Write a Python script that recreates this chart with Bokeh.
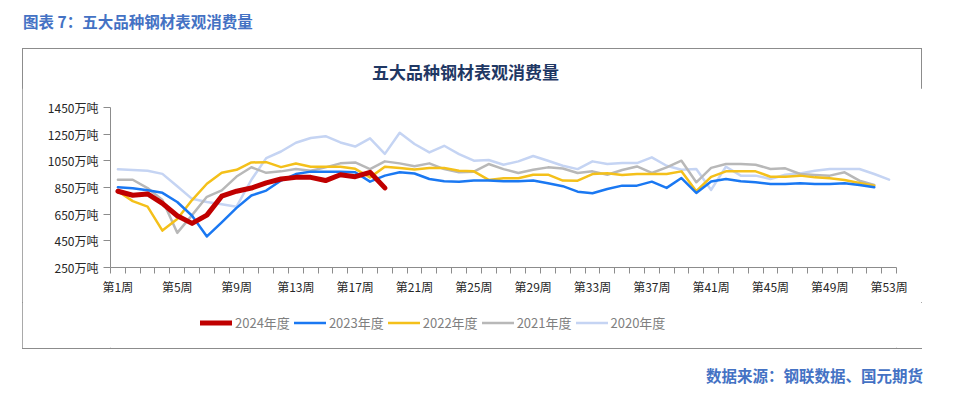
from bokeh.plotting import figure
from bokeh.models import Range1d, FixedTicker, Legend, LegendItem, Div
from bokeh.layouts import column
from bokeh.embed import file_html
from bokeh.resources import INLINE

# ---- data ----
x_tick_weeks = [1, 5, 9, 13, 17, 21, 25, 29, 33, 37, 41, 45, 49, 53]
x_tick_labels = ["第1周", "第5周", "第9周", "第13周", "第17周", "第21周", "第25周",
                 "第29周", "第33周", "第37周", "第41周", "第45周", "第49周", "第53周"]
y_ticks = [250, 450, 650, 850, 1050, 1250, 1450]
y_tick_labels = ["250万吨", "450万吨", "650万吨", "850万吨", "1050万吨", "1250万吨", "1450万吨"]

v2024 = [822, 792, 802, 731, 638, 581, 643, 785, 822, 846, 885, 914, 926, 926, 902,
         946, 931, 964, 847]
v2023 = [851, 844, 829, 810, 741, 638, 483, 589, 697, 790, 827, 902, 951, 969, 969,
         969, 964, 894, 939, 964, 955, 914, 897, 894, 902, 902, 897, 897, 902, 882,
         860, 819, 807, 839, 864, 864, 894, 847, 921, 809, 895, 914, 897, 889, 877,
         877, 882, 877, 877, 882, 869, 852]
v2022 = [822, 748, 706, 527, 613, 756, 878, 960, 983, 1038, 1040, 1003, 1030, 1006, 1006,
         1006, 990, 926, 1006, 996, 985, 996, 996, 976, 971, 907, 919, 919, 946, 946,
         902, 901, 951, 956, 944, 951, 951, 951, 971, 822, 930, 971, 971, 971, 931,
         931, 939, 926, 919, 906, 884, 864]
v2021 = [908, 908, 846, 756, 510, 643, 780, 829, 932, 1002, 960, 971, 988, 976, 1001,
         1031, 1038, 988, 1046, 1031, 1010, 1031, 988, 964, 969, 1026, 988, 959, 983, 1001,
         992, 959, 971, 946, 981, 1008, 959, 1001, 1051, 889, 997, 1026, 1026, 1021, 989,
         994, 951, 944, 939, 964, 901, 869]
v2020 = [986, 981, 976, 952, 859, 765, 741, 724, 706, 908, 1070, 1120, 1186, 1221, 1235,
         1188, 1157, 1219, 1102, 1260, 1176, 1113, 1163, 1101, 1051, 1056, 1021, 1046, 1086, 1051,
         1013, 988, 1046, 1026, 1033, 1033, 1076, 1013, 983, 988, 832, 1006, 939, 939, 914,
         946, 956, 976, 989, 989, 989, 951, 909]

series_names = ["2024年度", "2023年度", "2022年度", "2021年度", "2020年度"]
series_values = [v2024, v2023, v2022, v2021, v2020]
series_colors = ["#C00000", "#1A78F2", "#F4C01A", "#B8B8B8", "#C5D4F3"]
series_widths = [5, 2.5, 2.5, 2.5, 2.5]

FONT = "Noto Sans CJK SC"

# ---- main chart ----
p = figure(width=900, height=214, output_backend="svg", toolbar_location=None,
           x_range=Range1d(0.5, 53.5), y_range=Range1d(250, 1450),
           min_border_left=88, min_border_right=26, min_border_top=19,
           min_border_bottom=35)
p.outline_line_color = None
p.xgrid.visible = False
p.ygrid.visible = False

for i in reversed(range(5)):
    vals = series_values[i]
    xs = list(range(1, len(vals) + 1))
    p.line(xs, vals, line_color=series_colors[i], line_width=series_widths[i],
           line_join="round", line_cap="round")

ax = p.xaxis[0]
ax.ticker = FixedTicker(ticks=x_tick_weeks, minor_ticks=[w + 0.5 for w in range(0, 54)])
ax.major_label_overrides = {w: l for w, l in zip(x_tick_weeks, x_tick_labels)}
ax.major_tick_line_color = None
ax.major_tick_out = 6
ax.major_tick_in = 0
ax.minor_tick_out = 6
ax.minor_tick_in = 0
ax.minor_tick_line_color = "#8C8C8C"
ax.axis_line_color = "#8C8C8C"
ax.major_label_standoff = 4
ax.major_label_text_font = FONT
ax.major_label_text_font_size = "12px"
ax.major_label_text_color = "#262626"

ay = p.yaxis[0]
ay.ticker = FixedTicker(ticks=y_ticks)
ay.major_label_overrides = {v: l for v, l in zip(y_ticks, y_tick_labels)}
ay.major_tick_out = 7
ay.major_tick_in = 0
ay.minor_tick_line_color = None
ay.major_tick_line_color = "#8C8C8C"
ay.axis_line_color = "#8C8C8C"
ay.major_label_standoff = 5
ay.major_label_text_font = FONT
ay.major_label_text_font_size = "12px"
ay.major_label_text_color = "#262626"

# ---- legend strip (series drawn out of view, only the legend shows) ----
leg = figure(width=900, height=46, output_backend="svg", toolbar_location=None,
             x_range=Range1d(0, 1), y_range=Range1d(0, 1),
             x_axis_type=None, y_axis_type=None,
             min_border_left=0, min_border_right=0, min_border_top=0, min_border_bottom=0)
leg.outline_line_color = None
leg.xgrid.visible = False
leg.ygrid.visible = False
leg_items = []
for i in range(5):
    vals = series_values[i]
    xs = list(range(1, len(vals) + 1))
    r = leg.line(xs, vals, line_color=series_colors[i], line_width=series_widths[i],
                 line_cap="round")
    leg_items.append(LegendItem(label=series_names[i], renderers=[r]))
legend = Legend(items=leg_items, orientation="horizontal", location=(90, 16),
                padding=0, margin=0, spacing=4, glyph_width=32, glyph_height=17,
                label_standoff=3, label_text_font=FONT, label_text_font_size="13px",
                label_text_color="#7F7F7F", border_line_color=None,
                background_fill_alpha=0)
leg.add_layout(legend, "center")

chart_title = Div(width=900, height=40, margin=0,
                  text=("<div style=\"padding-left:350px; padding-top:15px; "
                        "font-family:'Noto Sans CJK SC'; font-weight:bold; font-size:17px; "
                        "line-height:18px; color:#1F3864; white-space:nowrap;\">"
                        "五大品种钢材表观消费量</div>"))

box = column(chart_title, p, leg, margin=(0, 0, 0, 22), spacing=0,
             styles={"outline": "1px solid #8C8C8C", "outline-offset": "-1px"})

title_div = Div(width=940, height=48, margin=0,
                text=("<div style=\"padding-left:23px; padding-top:13px; "
                      "font-family:'Noto Sans CJK SC'; font-weight:bold; font-size:15.5px; "
                      "line-height:16px; color:#4472C4; white-space:nowrap;\">"
                      "图表 7：五大品种钢材表观消费量</div>"))
footer_div = Div(width=940, height=40, margin=0,
                 text=("<div style=\"margin-left:22px; width:900px; height:0px; "
                       "border-top:1px solid #8C8C8C;\"></div>"
                       "<div style=\"width:923px; text-align:right; padding-top:18px; "
                       "font-family:'Noto Sans CJK SC'; font-weight:bold; font-size:15.5px; "
                       "line-height:16px; color:#4472C4; white-space:nowrap;\">"
                       "数据来源：钢联数据、国元期货</div>"))

layout = column(title_div, box, footer_div, spacing=0)

open("out.html", "w").write(file_html(layout, INLINE))
